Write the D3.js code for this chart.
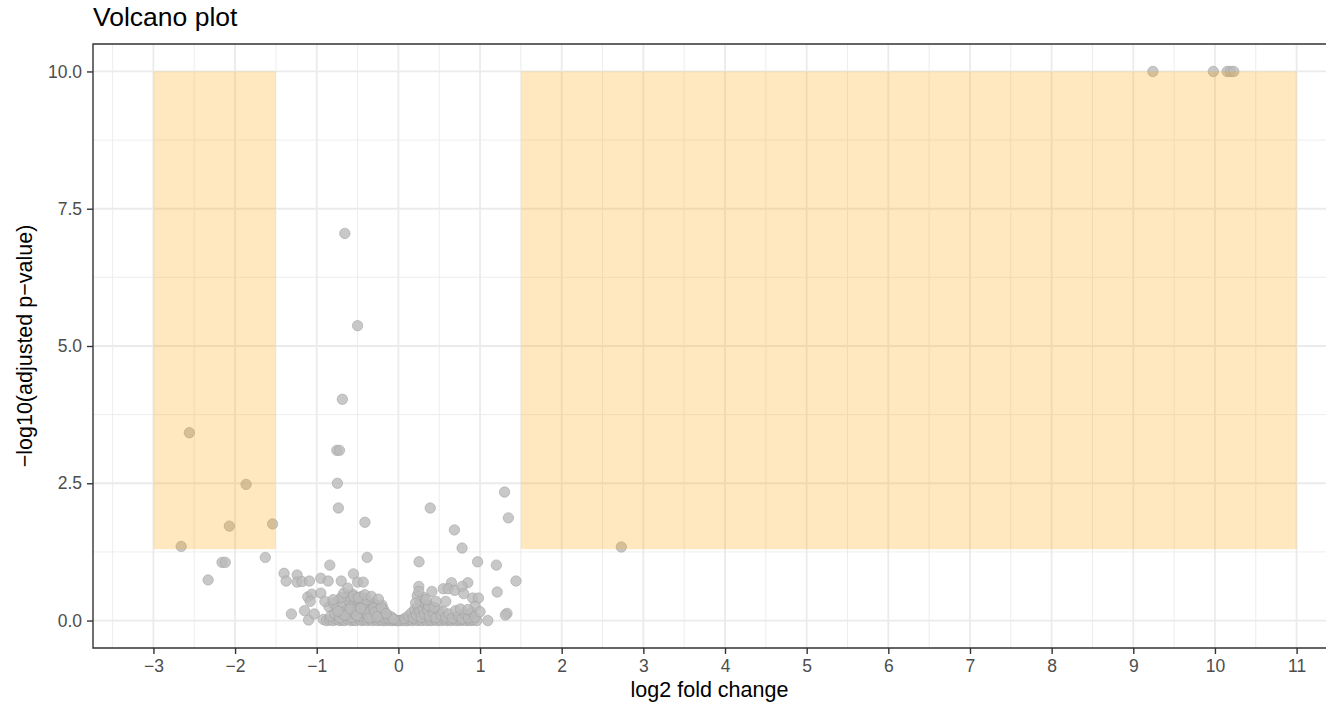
<!DOCTYPE html>
<html>
<head>
<meta charset="utf-8">
<script src="https://cdn.jsdelivr.net/npm/d3@7"></script>
<style>
  body { margin: 0; background: #fff; }
  svg { display: block; font-family: "Liberation Sans", Arial, sans-serif; }
</style>
</head>
<body>
<svg id="chart"></svg>
<script>
// data: [log2 fold change, -log10(adjusted p-value)]
const topHits = [[9.24, 10], [9.98, 10], [10.15, 10], [10.19, 10], [10.23, 10]];
const downHits = [[-2.56, 3.42], [-1.865, 2.48], [-2.07, 1.72], [-1.54, 1.76], [-2.66, 1.35]];
const upHits = [[2.73, 1.34]];
const spikeGenes = [[-0.656, 7.05], [-0.50, 5.37], [-0.686, 4.03], [-0.754, 3.10], [-0.722, 3.10],
  [-0.747, 2.50], [-0.735, 2.05], [-0.41, 1.79], [0.39, 2.05], [1.30, 2.34], [1.347, 1.87], [0.686, 1.65]];
const midGenes = [[-1.63, 1.15], [-2.16, 1.06], [-2.12, 1.06], [-2.33, 0.74], [-0.383, 1.15], [-0.84, 1.01],
  [0.78, 1.32], [0.253, 1.07], [0.97, 1.07], [1.20, 1.01], [1.44, 0.72], [1.21, 0.52], [1.33, 0.13],
  [1.31, 0.10], [1.095, 0.0], [-1.40, 0.86], [-1.375, 0.72], [-1.24, 0.83], [-1.24, 0.70], [-1.18, 0.71],
  [-1.09, 0.72], [-0.95, 0.77], [-0.86, 0.72], [-0.70, 0.72], [-0.55, 0.85], [-0.50, 0.70], [-0.43, 0.70],
  [-1.31, 0.12], [-1.15, 0.18], [-1.10, 0.01], [-1.03, 0.12], [-1.11, 0.43], [-1.06, 0.48], [-0.95, 0.50],
  [-1.08, 0.35], [-0.90, 0.35], [-0.80, 0.38], [-0.67, 0.50], [-0.62, 0.59], [-0.55, 0.44], [-0.49, 0.42],
  [-0.41, 0.47], [-0.33, 0.44], [-0.245, 0.39], [0.65, 0.69], [0.85, 0.69], [0.55, 0.58], [0.61, 0.58],
  [0.69, 0.55], [0.78, 0.62], [0.80, 0.49], [0.25, 0.62], [0.25, 0.53], [0.41, 0.53], [0.58, 0.35],
  [0.91, 0.41], [0.98, 0.41], [0.94, 0.26], [0.76, 0.21], [1.0, 0.16], [0.85, 0.2], [0.46, 0.35],
  [0.21, 0.32], [0.34, 0.38]];
const lowGenes = [[-0.85, 0.25], [-0.8, 0.32], [-0.76, 0.22], [-0.72, 0.38], [-0.68, 0.28], [-0.64, 0.2],
  [-0.6, 0.35], [-0.58, 0.26], [-0.54, 0.3], [-0.5, 0.24], [-0.47, 0.33], [-0.44, 0.27], [-0.4, 0.22],
  [-0.37, 0.3], [-0.34, 0.25], [-0.3, 0.32], [-0.27, 0.26], [-0.24, 0.22], [-0.2, 0.28], [-0.18, 0.2],
  [-0.62, 0.45], [-0.56, 0.48], [-0.52, 0.4], [-0.45, 0.44], [-0.7, 0.42],
  [-0.83, 0.08], [-0.78, 0.12], [-0.72, 0.05], [-0.68, 0.14], [-0.63, 0.09], [-0.6, 0.16], [-0.57, 0.06],
  [-0.53, 0.12], [-0.5, 0.18], [-0.47, 0.08], [-0.44, 0.14], [-0.41, 0.2], [-0.38, 0.1], [-0.35, 0.16],
  [-0.32, 0.06], [-0.3, 0.22], [-0.27, 0.12], [-0.24, 0.18], [-0.22, 0.08], [-0.19, 0.14], [-0.17, 0.05],
  [-0.14, 0.1], [-0.12, 0.04], [-0.09, 0.07], [-0.06, 0.03],
  [-0.66, 0.1], [-0.59, 0.21], [-0.51, 0.09], [-0.43, 0.31], [-0.36, 0.05], [-0.29, 0.15], [-0.21, 0.24],
  [-0.15, 0.13], [-0.74, 0.17], [-0.46, 0.22], [-0.39, 0.38], [-0.26, 0.07],
  [0.08, 0.04], [0.12, 0.08], [0.16, 0.14], [0.18, 0.05], [0.2, 0.2], [0.22, 0.1], [0.24, 0.26],
  [0.26, 0.16], [0.28, 0.06], [0.3, 0.22], [0.32, 0.12], [0.34, 0.3], [0.36, 0.18], [0.38, 0.08],
  [0.4, 0.25], [0.43, 0.14], [0.46, 0.05], [0.49, 0.2], [0.52, 0.1], [0.55, 0.16], [0.58, 0.06],
  [0.62, 0.12], [0.66, 0.04], [0.7, 0.18], [0.74, 0.08], [0.78, 0.03], [0.82, 0.12], [0.86, 0.05],
  [0.9, 0.15], [0.94, 0.06], [0.27, 0.35], [0.31, 0.42], [0.37, 0.27], [0.44, 0.24], [0.23, 0.45]];
const baseGenes = [[-0.92, 0.02], [-0.88, 0], [-0.84, 0.01], [-0.80, 0], [-0.76, 0.02], [-0.72, 0],
  [-0.69, 0.01], [-0.66, 0], [-0.62, 0.02], [-0.58, 0], [-0.55, 0.01], [-0.52, 0], [-0.48, 0.02],
  [-0.45, 0], [-0.42, 0.01], [-0.38, 0], [-0.35, 0.02], [-0.32, 0], [-0.28, 0.01], [-0.25, 0],
  [-0.22, 0.01], [-0.19, 0], [-0.16, 0], [-0.13, 0.01], [-0.10, 0], [-0.07, 0], [-0.04, 0.01],
  [-0.02, 0], [0.0, 0], [0.02, 0], [0.05, 0.01], [0.08, 0], [0.11, 0], [0.14, 0.01], [0.17, 0],
  [0.20, 0.02], [0.23, 0], [0.26, 0.01], [0.29, 0], [0.32, 0.02], [0.35, 0], [0.38, 0.01], [0.41, 0],
  [0.44, 0.02], [0.47, 0], [0.50, 0.01], [0.53, 0], [0.56, 0.02], [0.59, 0], [0.62, 0.01], [0.65, 0],
  [0.68, 0.02], [0.71, 0], [0.74, 0.01], [0.77, 0], [0.80, 0.02], [0.83, 0], [0.86, 0.01], [0.89, 0],
  [0.92, 0.01], [0.96, 0]];

// significance regions (log2FC cut 1.5, padj 0.05)
const regions = [{x0: -3, x1: -1.5, y0: 1.30103, y1: 10}, {x0: 1.5, x1: 11, y0: 1.30103, y1: 10}];
const xTicks = d3.range(-3, 12, 1);
const xMinor = d3.range(-3.5, 11, 1);
const yTicks = [0, 2.5, 5, 7.5, 10];
const yMinor = [1.25, 3.75, 6.25, 8.75];

const W = 1332, H = 709;
const margin = {top: 44, right: 6, bottom: 61, left: 93};
const width = W - margin.left - margin.right;
const height = H - margin.top - margin.bottom;

const x = d3.scaleLinear().domain([-3.74, 11.36]).range([0, width]);
const y = d3.scaleLinear().domain([-0.5, 10.5]).range([height, 0]);

const svg = d3.select("#chart").attr("width", W).attr("height", H);
const g = svg.append("g").attr("transform", `translate(${margin.left},${margin.top})`);

// grid
const grid = g.append("g").attr("stroke", "#ebebeb").attr("fill", "none");
grid.selectAll(".vminor").data(xMinor).join("line")
  .attr("x1", d => x(d)).attr("x2", d => x(d)).attr("y1", 0).attr("y2", height).attr("stroke-width", 0.9);
grid.selectAll(".hminor").data(yMinor).join("line")
  .attr("x1", 0).attr("x2", width).attr("y1", d => y(d)).attr("y2", d => y(d)).attr("stroke-width", 0.9);
grid.selectAll(".vmajor").data(xTicks).join("line")
  .attr("x1", d => x(d)).attr("x2", d => x(d)).attr("y1", 0).attr("y2", height).attr("stroke-width", 1.8);
grid.selectAll(".hmajor").data(yTicks).join("line")
  .attr("x1", 0).attr("x2", width).attr("y1", d => y(d)).attr("y2", d => y(d)).attr("stroke-width", 1.8);

// points
const allGenes = [].concat(baseGenes, lowGenes, midGenes, spikeGenes, downHits, upHits, topHits);
g.append("g").selectAll("circle").data(allGenes).join("circle")
  .attr("cx", d => x(d[0])).attr("cy", d => y(d[1])).attr("r", 5.2)
  .attr("fill", "#bababa").attr("fill-opacity", 0.8)
  .attr("stroke", "#9e9e9e").attr("stroke-opacity", 0.55).attr("stroke-width", 1);

// shaded regions on top
g.append("g").selectAll("rect").data(regions).join("rect")
  .attr("x", d => x(d.x0)).attr("width", d => x(d.x1) - x(d.x0))
  .attr("y", d => y(d.y1)).attr("height", d => y(d.y0) - y(d.y1))
  .attr("fill", "#ffa500").attr("fill-opacity", 0.25);

// border
g.append("path")
  .attr("d", `M${width},0H0V${height}H${width}`)
  .attr("fill", "none").attr("stroke", "#333").attr("stroke-width", 1.4);

// axes
const xAxis = g.append("g").attr("transform", `translate(0,${height})`)
  .call(d3.axisBottom(x).tickValues(xTicks).tickFormat(d3.format("d")).tickSize(6).tickPadding(6));
const yAxis = g.append("g")
  .call(d3.axisLeft(y).tickValues(yTicks).tickFormat(d3.format(".1f")).tickSize(6).tickPadding(5));
[xAxis, yAxis].forEach(a => {
  a.select(".domain").remove();
  a.selectAll(".tick line").attr("stroke", "#333").attr("stroke-width", 1.4);
  a.selectAll(".tick text").attr("fill", "#4d4d4d").style("font-size", "17.5px")
    .style("font-family", "Liberation Sans, Arial, sans-serif");
});

// titles
svg.append("text").attr("x", margin.left).attr("y", 26)
  .style("font-size", "26.5px").attr("fill", "#000").text("Volcano plot");
svg.append("text").attr("x", margin.left + width / 2).attr("y", 697)
  .attr("text-anchor", "middle").style("font-size", "21.5px").text("log2 fold change");
svg.append("text")
  .attr("transform", `translate(32,${margin.top + height / 2}) rotate(-90)`)
  .attr("text-anchor", "middle").style("font-size", "21.5px").text("\u2212log10(adjusted p\u2212value)");
</script>
</body>
</html>
